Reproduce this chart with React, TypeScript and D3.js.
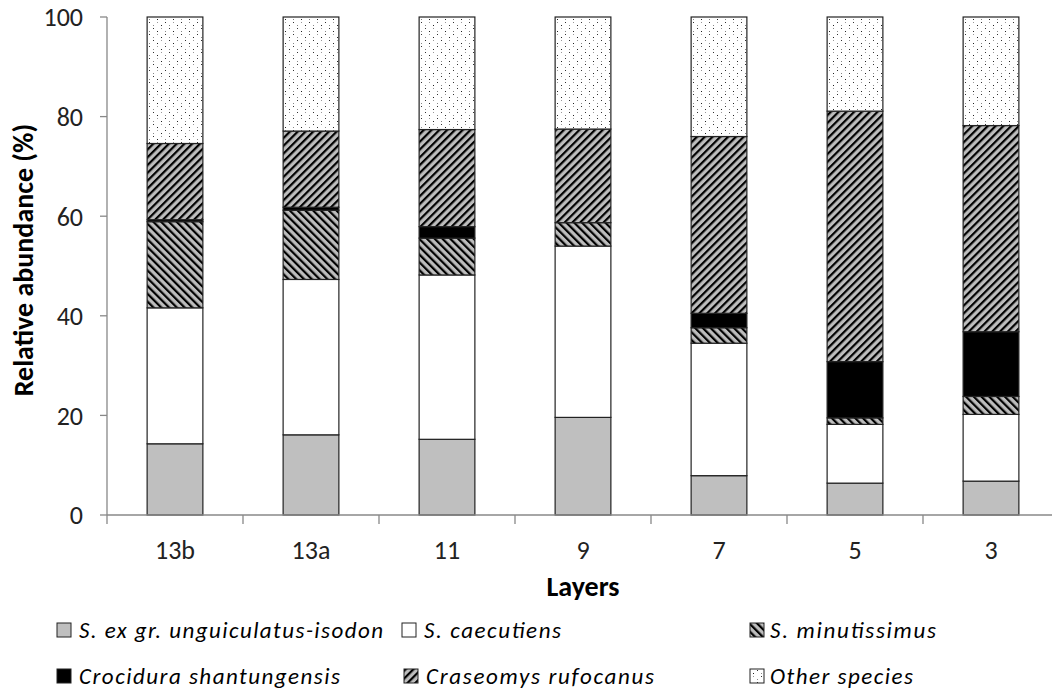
import React from "react";
import * as d3 from "d3";

const layers = ["13b", "13a", "11", "9", "7", "5", "3"];
const seriesNames = [
  "S. ex gr. unguiculatus-isodon",
  "S. caecutiens",
  "S. minutissimus",
  "Crocidura shantungensis",
  "Craseomys rufocanus",
  "Other species",
];
const unguiculatus = [14.3, 16.1, 15.2, 19.6, 7.9, 6.4, 6.8];
const caecutiens = [27.3, 31.2, 33.0, 34.4, 26.6, 11.8, 13.4];
const minutissimus = [17.3, 13.9, 7.4, 4.7, 3.1, 1.3, 3.6];
const crocidura = [0.4, 0.6, 2.3, 0.0, 2.9, 11.3, 13.0];
const rufocanus = [15.3, 15.3, 19.5, 18.8, 35.5, 50.3, 41.4];
const other = [25.4, 22.9, 22.6, 22.5, 24.0, 18.9, 21.8];
const yTicks = [0, 20, 40, 60, 80, 100];

const seriesValues = [unguiculatus, caecutiens, minutissimus, crocidura, rufocanus, other];
const fills = ["#bfbfbf", "#ffffff", "url(#pMin)", "#000000", "url(#pRuf)", "url(#pDots)"];

const W = 1052;
const H = 689;
const FONT = "Carlito, Lato, 'Open Sans', sans-serif";

export default function App() {
  const x = d3.scaleBand<string>().domain(layers).range([107, 1059]).paddingInner(0.59).paddingOuter(0.295);
  const y = d3.scaleLinear().domain([0, 100]).range([515, 17]);

  const rows = layers.map((l, i) => {
    const r: any = { layer: l };
    seriesNames.forEach((s, k) => (r[s] = seriesValues[k][i]));
    return r;
  });
  const stack = d3.stack<any>().keys(seriesNames)(rows);

  const step = x.step();
  const x0 = x.range()[0];
  const boundaries = d3.range(layers.length + 1).map((i) => x0 + i * step);

  const legendPos = [
    { sx: 57, tx: 79, y: 630, len: 304 },
    { sx: 402, tx: 424, y: 630, len: 137 },
    { sx: 750, tx: 770, y: 630, len: 166 },
    { sx: 57, tx: 79, y: 676, len: 261 },
    { sx: 404, tx: 426, y: 676, len: 228 },
    { sx: 750, tx: 770, y: 676, len: 143 },
  ];

  return (
    <svg width={W} height={H} style={{ position: "absolute", left: 0, top: 0, background: "#fff" }}>
      <defs>
        <pattern id="pMin" patternUnits="userSpaceOnUse" width={5.5} height={5.5} patternTransform="rotate(-45)">
          <rect width={5.5} height={5.5} fill="#bdbdbd" />
          <rect x={0} y={0} width={2.2} height={5.5} fill="#000" />
        </pattern>
        <pattern id="pRuf" patternUnits="userSpaceOnUse" width={5.5} height={5.5} patternTransform="rotate(45)">
          <rect width={5.5} height={5.5} fill="#bdbdbd" />
          <rect x={0} y={0} width={2.2} height={5.5} fill="#000" />
        </pattern>
        <pattern id="pDots" patternUnits="userSpaceOnUse" width={16} height={12}>
          <rect width={16} height={12} fill="#fff" />
          <rect x={1} y={1} width={1} height={1} fill="#222" />
          <rect x={9} y={1} width={1} height={1} fill="#888" />
          <rect x={5} y={7} width={1} height={1} fill="#888" />
          <rect x={13} y={7} width={1} height={1} fill="#222" />
          <rect x={1} y={4} width={1} height={1} fill="#999" />
          <rect x={9} y={4} width={1} height={1} fill="#333" />
          <rect x={5} y={10} width={1} height={1} fill="#333" />
          <rect x={13} y={10} width={1} height={1} fill="#999" />
        </pattern>
      </defs>

      {/* bars */}
      {stack.map((s, k) => (
        <g key={k}>
          {s.map((d, i) => {
            const h = y(d[0]) - y(d[1]);
            if (h <= 0) return null;
            return (
              <rect
                key={i}
                x={x(layers[i])}
                y={y(d[1])}
                width={x.bandwidth()}
                height={h}
                fill={fills[k]}
                stroke="#222"
                strokeWidth={1.2}
              />
            );
          })}
        </g>
      ))}

      {/* y axis */}
      <line x1={107} x2={107} y1={y(100)} y2={y(0)} stroke="#888" strokeWidth={1.3} />
      {yTicks.map((t) => (
        <g key={t}>
          <line x1={100} x2={107} y1={y(t)} y2={y(t)} stroke="#888" strokeWidth={1.3} />
          <text x={83} y={y(t)} dy="0.36em" textAnchor="end" fontFamily={FONT} fontSize={26} fill="#222">
            {t}
          </text>
        </g>
      ))}

      {/* x axis */}
      <line x1={107} x2={W} y1={y(0)} y2={y(0)} stroke="#888" strokeWidth={1.3} />
      {boundaries.map((b, i) => (
        <line key={i} x1={b} x2={b} y1={y(0)} y2={y(0) + 9} stroke="#888" strokeWidth={1.3} />
      ))}
      {layers.map((l) => (
        <text
          key={l}
          x={(x(l) as number) + x.bandwidth() / 2}
          y={559}
          textAnchor="middle"
          fontFamily={FONT}
          fontSize={26}
          fill="#222"
        >
          {l}
        </text>
      ))}

      {/* axis titles */}
      <text x={583} y={596} textAnchor="middle" fontFamily={FONT} fontSize={28} fontWeight="bold" fill="#000">
        Layers
      </text>
      <text
        transform={`translate(33,260) rotate(-90)`}
        textAnchor="middle"
        fontFamily={FONT}
        fontSize={28}
        fontWeight="bold"
        fill="#000"
      >
        Relative abundance (%)
      </text>

      {/* legend */}
      {seriesNames.map((s, k) => (
        <g key={s}>
          <rect
            x={legendPos[k].sx}
            y={legendPos[k].y - 7}
            width={14}
            height={14}
            fill={fills[k]}
            stroke="#222"
            strokeWidth={1}
          />
          <text
            x={legendPos[k].tx}
            y={legendPos[k].y}
            dy="0.36em"
            fontFamily={FONT}
            fontSize={23}
            fontStyle="italic"
            fill="#000"
            textLength={legendPos[k].len}
            lengthAdjust="spacing"
          >
            {s}
          </text>
        </g>
      ))}
    </svg>
  );
}
